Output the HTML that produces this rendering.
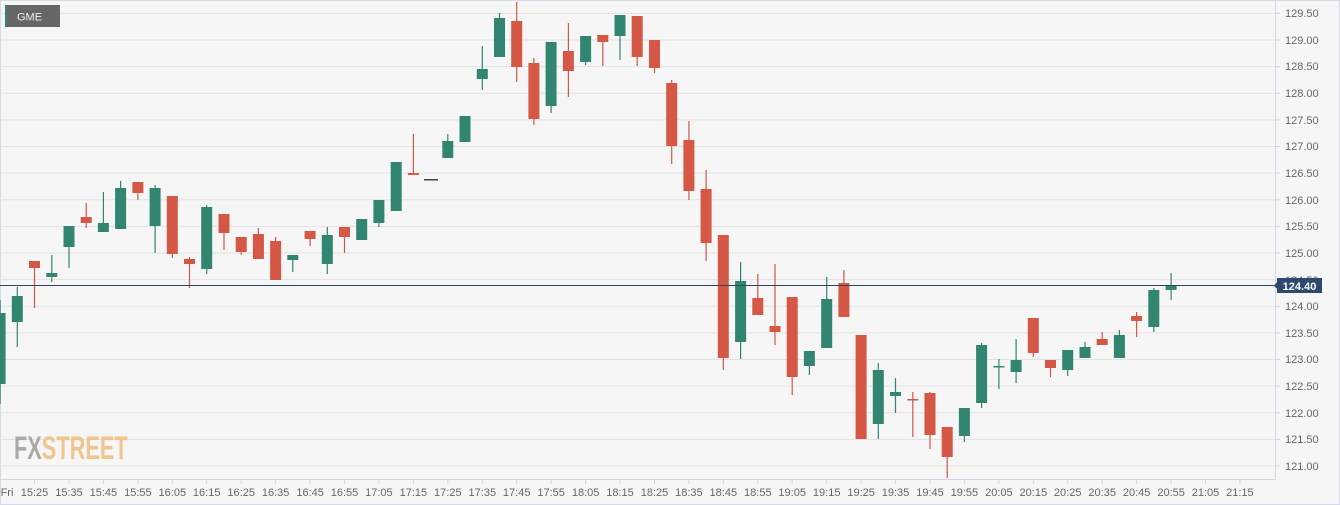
<!DOCTYPE html>
<html><head><meta charset="utf-8"><style>
html,body{margin:0;padding:0;background:#f6f6f6;}
svg{display:block;font-family:"Liberation Sans",sans-serif;}
</style></head><body>
<svg width="1340" height="505" viewBox="0 0 1340 505" xmlns="http://www.w3.org/2000/svg">
<rect x="0" y="0" width="1340" height="505" fill="#f6f6f6"/>
<rect x="0.5" y="0.5" width="1339" height="504" fill="none" stroke="#d5d9ea"/>
<g stroke="#e2e2e2" stroke-width="1">
<line x1="0" x2="1275" y1="466" y2="466"/><line x1="0" x2="1275" y1="439.4" y2="439.4"/><line x1="0" x2="1275" y1="412.8" y2="412.8"/><line x1="0" x2="1275" y1="386.1" y2="386.1"/><line x1="0" x2="1275" y1="359.5" y2="359.5"/><line x1="0" x2="1275" y1="332.9" y2="332.9"/><line x1="0" x2="1275" y1="306.3" y2="306.3"/><line x1="0" x2="1275" y1="279.6" y2="279.6"/><line x1="0" x2="1275" y1="253" y2="253"/><line x1="0" x2="1275" y1="226.4" y2="226.4"/><line x1="0" x2="1275" y1="199.8" y2="199.8"/><line x1="0" x2="1275" y1="173.1" y2="173.1"/><line x1="0" x2="1275" y1="146.5" y2="146.5"/><line x1="0" x2="1275" y1="119.9" y2="119.9"/><line x1="0" x2="1275" y1="93.3" y2="93.3"/><line x1="0" x2="1275" y1="66.6" y2="66.6"/><line x1="0" x2="1275" y1="40" y2="40"/><line x1="0" x2="1275" y1="13.4" y2="13.4"/>
</g>
<line x1="1275.5" x2="1275.5" y1="0" y2="480" stroke="#d0d4e4"/>
<line x1="0" x2="1276" y1="479.5" y2="479.5" stroke="#d0d4e4"/>
<g fill="#666" font-size="11">
<text x="1285" y="470">121.00</text><text x="1285" y="443">121.50</text><text x="1285" y="417">122.00</text><text x="1285" y="390">122.50</text><text x="1285" y="363">123.00</text><text x="1285" y="337">123.50</text><text x="1285" y="310">124.00</text><text x="1285" y="284">124.50</text><text x="1285" y="257">125.00</text><text x="1285" y="230">125.50</text><text x="1285" y="204">126.00</text><text x="1285" y="177">126.50</text><text x="1285" y="150">127.00</text><text x="1285" y="124">127.50</text><text x="1285" y="97">128.00</text><text x="1285" y="70">128.50</text><text x="1285" y="44">129.00</text><text x="1285" y="17">129.50</text>
</g>
<g stroke="#d0d4e4">
<line x1="1275" x2="1280" y1="466" y2="466"/><line x1="1275" x2="1280" y1="439.4" y2="439.4"/><line x1="1275" x2="1280" y1="412.8" y2="412.8"/><line x1="1275" x2="1280" y1="386.1" y2="386.1"/><line x1="1275" x2="1280" y1="359.5" y2="359.5"/><line x1="1275" x2="1280" y1="332.9" y2="332.9"/><line x1="1275" x2="1280" y1="306.3" y2="306.3"/><line x1="1275" x2="1280" y1="279.6" y2="279.6"/><line x1="1275" x2="1280" y1="253" y2="253"/><line x1="1275" x2="1280" y1="226.4" y2="226.4"/><line x1="1275" x2="1280" y1="199.8" y2="199.8"/><line x1="1275" x2="1280" y1="173.1" y2="173.1"/><line x1="1275" x2="1280" y1="146.5" y2="146.5"/><line x1="1275" x2="1280" y1="119.9" y2="119.9"/><line x1="1275" x2="1280" y1="93.3" y2="93.3"/><line x1="1275" x2="1280" y1="66.6" y2="66.6"/><line x1="1275" x2="1280" y1="40" y2="40"/><line x1="1275" x2="1280" y1="13.4" y2="13.4"/>
</g>
<g fill="#666" font-size="11" text-anchor="middle">
<text x="7" y="496">Fri</text>
<text x="34.5" y="496">15:25</text><text x="69" y="496">15:35</text><text x="103.4" y="496">15:45</text><text x="137.9" y="496">15:55</text><text x="172.3" y="496">16:05</text><text x="206.7" y="496">16:15</text><text x="241.2" y="496">16:25</text><text x="275.6" y="496">16:35</text><text x="310.1" y="496">16:45</text><text x="344.5" y="496">16:55</text><text x="378.9" y="496">17:05</text><text x="413.4" y="496">17:15</text><text x="447.8" y="496">17:25</text><text x="482.3" y="496">17:35</text><text x="516.7" y="496">17:45</text><text x="551.1" y="496">17:55</text><text x="585.6" y="496">18:05</text><text x="620" y="496">18:15</text><text x="654.5" y="496">18:25</text><text x="688.9" y="496">18:35</text><text x="723.3" y="496">18:45</text><text x="757.8" y="496">18:55</text><text x="792.2" y="496">19:05</text><text x="826.7" y="496">19:15</text><text x="861.1" y="496">19:25</text><text x="895.5" y="496">19:35</text><text x="930" y="496">19:45</text><text x="964.4" y="496">19:55</text><text x="998.9" y="496">20:05</text><text x="1033.3" y="496">20:15</text><text x="1067.7" y="496">20:25</text><text x="1102.2" y="496">20:35</text><text x="1136.6" y="496">20:45</text><text x="1171.1" y="496">20:55</text><text x="1205.5" y="496">21:05</text><text x="1239.9" y="496">21:15</text>
</g>
<g stroke="#d0d4e4">
<line x1="34.5" x2="34.5" y1="480" y2="484"/><line x1="69" x2="69" y1="480" y2="484"/><line x1="103.4" x2="103.4" y1="480" y2="484"/><line x1="137.9" x2="137.9" y1="480" y2="484"/><line x1="172.3" x2="172.3" y1="480" y2="484"/><line x1="206.7" x2="206.7" y1="480" y2="484"/><line x1="241.2" x2="241.2" y1="480" y2="484"/><line x1="275.6" x2="275.6" y1="480" y2="484"/><line x1="310.1" x2="310.1" y1="480" y2="484"/><line x1="344.5" x2="344.5" y1="480" y2="484"/><line x1="378.9" x2="378.9" y1="480" y2="484"/><line x1="413.4" x2="413.4" y1="480" y2="484"/><line x1="447.8" x2="447.8" y1="480" y2="484"/><line x1="482.3" x2="482.3" y1="480" y2="484"/><line x1="516.7" x2="516.7" y1="480" y2="484"/><line x1="551.1" x2="551.1" y1="480" y2="484"/><line x1="585.6" x2="585.6" y1="480" y2="484"/><line x1="620" x2="620" y1="480" y2="484"/><line x1="654.5" x2="654.5" y1="480" y2="484"/><line x1="688.9" x2="688.9" y1="480" y2="484"/><line x1="723.3" x2="723.3" y1="480" y2="484"/><line x1="757.8" x2="757.8" y1="480" y2="484"/><line x1="792.2" x2="792.2" y1="480" y2="484"/><line x1="826.7" x2="826.7" y1="480" y2="484"/><line x1="861.1" x2="861.1" y1="480" y2="484"/><line x1="895.5" x2="895.5" y1="480" y2="484"/><line x1="930" x2="930" y1="480" y2="484"/><line x1="964.4" x2="964.4" y1="480" y2="484"/><line x1="998.9" x2="998.9" y1="480" y2="484"/><line x1="1033.3" x2="1033.3" y1="480" y2="484"/><line x1="1067.7" x2="1067.7" y1="480" y2="484"/><line x1="1102.2" x2="1102.2" y1="480" y2="484"/><line x1="1136.6" x2="1136.6" y1="480" y2="484"/><line x1="1171.1" x2="1171.1" y1="480" y2="484"/><line x1="1205.5" x2="1205.5" y1="480" y2="484"/><line x1="1239.9" x2="1239.9" y1="480" y2="484"/>
</g>
<!-- watermark -->
<text x="14" y="459" font-size="32" font-weight="bold" transform="translate(14 0) scale(0.68 1) translate(-14 0)"><tspan fill="#a9a9a9">FX</tspan><tspan fill="#f2c58e">STREET</tspan></text>
<!-- green wicks -->
<path stroke="#328570" stroke-width="1.2" fill="none" d="M0.1 300V404M17.3 287V347M51.8 255V282M69 226V268M103.4 192V232M120.6 181V229M155.1 185V253M206.7 205V274M292.8 255V272M327.3 227V274M361.7 219V240M378.9 200V227M396.2 162V211M447.8 134V158M465 116V142M482.3 46V90M499.5 13V57M551.1 42V113M585.6 36V65M620 15V60M740.6 262V359M809.4 351V375M826.7 277V348M878.3 363V439M895.5 378V413M964.4 408V442M981.6 343V408M998.9 359V389M1016.1 339V383M1067.7 350V376M1085 342V358M1119.4 330V358M1153.8 288V332M1171.1 273V300"/>
<path stroke="#d55746" stroke-width="1.2" fill="none" d="M34.5 261V308M86.2 203V228M137.9 182V200M172.3 196V258M189.5 257V288M224 214V250M241.2 237V255M258.4 228V259M275.6 237V280M310.1 231V246M344.5 227V253M413.4 134V174M516.7 2V82M533.9 58V125M568.4 23V97M602.8 35V66M637.2 16V66M654.5 40V73M671.7 80V164M688.9 121V200M706.1 170V261M723.3 235V370M757.8 274V315M775 264V345M792.2 297V395M843.9 270V317M861.1 335V439M912.8 392V437M930 392V449M947.2 427V478M1033.3 318V357M1050.5 360V377M1102.2 332V345M1136.6 312V337"/>
<g fill="#328570">
<rect x="-5.4" y="313" width="11" height="71"/><rect x="11.8" y="296" width="11" height="26"/><rect x="46.3" y="273" width="11" height="4"/><rect x="63.5" y="226" width="11" height="21"/><rect x="97.9" y="223" width="11" height="9"/><rect x="115.1" y="188" width="11" height="41"/><rect x="149.6" y="188" width="11" height="38"/><rect x="201.2" y="207" width="11" height="62"/><rect x="287.3" y="255" width="11" height="5"/><rect x="321.8" y="235" width="11" height="29"/><rect x="356.2" y="219" width="11" height="21"/><rect x="373.4" y="200" width="11" height="23"/><rect x="390.7" y="162" width="11" height="49"/><rect x="442.3" y="141" width="11" height="17"/><rect x="459.5" y="116" width="11" height="26"/><rect x="476.8" y="69" width="11" height="10"/><rect x="494" y="18" width="11" height="39"/><rect x="545.6" y="42" width="11" height="64"/><rect x="580.1" y="36" width="11" height="26"/><rect x="614.5" y="15" width="11" height="21"/><rect x="735.1" y="281" width="11" height="61"/><rect x="803.9" y="351" width="11" height="15"/><rect x="821.2" y="299" width="11" height="49"/><rect x="872.8" y="370" width="11" height="54"/><rect x="890" y="392" width="11" height="4"/><rect x="958.9" y="408" width="11" height="28"/><rect x="976.1" y="345" width="11" height="58"/><rect x="993.4" y="366" width="11" height="1.5"/><rect x="1010.6" y="360" width="11" height="12"/><rect x="1062.2" y="350" width="11" height="20"/><rect x="1079.5" y="347" width="11" height="11"/><rect x="1113.9" y="335" width="11" height="23"/><rect x="1148.3" y="290" width="11" height="37"/><rect x="1165.6" y="286" width="11" height="4"/>
</g>
<g fill="#d55746">
<rect x="29" y="261" width="11" height="7"/><rect x="80.7" y="217" width="11" height="6"/><rect x="132.4" y="182" width="11" height="11"/><rect x="166.8" y="196" width="11" height="58"/><rect x="184" y="259" width="11" height="5"/><rect x="218.5" y="214" width="11" height="19"/><rect x="235.7" y="237" width="11" height="15"/><rect x="252.9" y="234" width="11" height="25"/><rect x="270.1" y="241" width="11" height="39"/><rect x="304.6" y="231" width="11" height="8"/><rect x="339" y="227" width="11" height="10"/><rect x="407.9" y="173" width="11" height="2"/><rect x="511.2" y="21" width="11" height="46"/><rect x="528.4" y="63" width="11" height="56"/><rect x="562.9" y="51" width="11" height="20"/><rect x="597.3" y="35" width="11" height="7"/><rect x="631.7" y="16" width="11" height="41"/><rect x="649" y="40" width="11" height="28"/><rect x="666.2" y="83" width="11" height="63"/><rect x="683.4" y="140" width="11" height="51"/><rect x="700.6" y="189" width="11" height="54"/><rect x="717.8" y="235" width="11" height="123"/><rect x="752.3" y="298" width="11" height="17"/><rect x="769.5" y="326" width="11" height="6"/><rect x="786.7" y="297" width="11" height="80"/><rect x="838.4" y="283" width="11" height="34"/><rect x="855.6" y="335" width="11" height="104"/><rect x="907.3" y="399" width="11" height="1.5"/><rect x="924.5" y="393" width="11" height="42"/><rect x="941.7" y="427" width="11" height="30"/><rect x="1027.8" y="318" width="11" height="35"/><rect x="1045" y="360" width="11" height="8"/><rect x="1096.7" y="339" width="11" height="6"/><rect x="1131.1" y="316" width="11" height="5"/>
</g>
<rect x="424" y="179" width="14" height="1.5" fill="#444"/>
<!-- current price line -->
<line x1="0" x2="1277" y1="285.5" y2="285.5" stroke="#2d4464" stroke-width="1"/>
<path d="M1274 285.5L1278 281V290Z" fill="#2d4a6e"/>
<rect x="1277" y="278" width="45" height="15" fill="#2d4a6e"/>
<text x="1299.5" y="290" fill="#fff" font-size="11" font-weight="bold" text-anchor="middle">124.40</text>
<!-- label -->
<rect x="5" y="5" width="55" height="22" fill="#666"/>
<rect x="5" y="5" width="2" height="22" fill="#328570"/>
<text x="17" y="20.5" fill="#eee" font-size="11">GME</text>
</svg>
</body></html>
